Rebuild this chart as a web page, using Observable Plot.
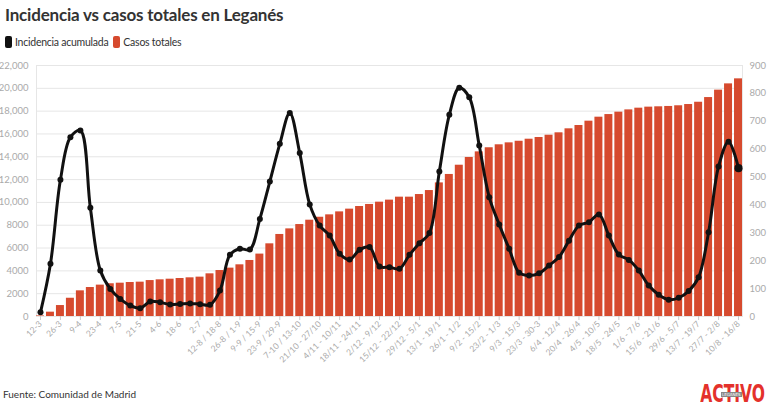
<!DOCTYPE html>
<html>
<head>
<meta charset="utf-8">
<script src="https://cdn.jsdelivr.net/npm/d3@7"></script>
<script src="https://cdn.jsdelivr.net/npm/@observablehq/plot@0.6"></script>
<style>
  body { margin: 0; width: 768px; height: 415px; overflow: hidden; background: #fff; position: relative; font-family: Lato, "Open Sans", sans-serif; }
  #title { position: absolute; left: 5px; top: 4px; font-size: 17px; letter-spacing: -0.2px; font-weight: 700; color: #333; white-space: nowrap; }
  #legend { position: absolute; left: 5px; top: 36px; font-size: 10.5px; letter-spacing: -0.25px; color: #333; white-space: nowrap; }
  #legend span.item { margin-right: 5px; }
  #legend .sw { display: inline-block; width: 7px; height: 12px; border-radius: 2px; margin-right: 3px; vertical-align: -2px; }
  #chart { position: absolute; left: 0; top: 55px; }
  #source { position: absolute; left: 3px; top: 388px; font-size: 10px; color: #333; white-space: nowrap; }
  #logo { position: absolute; right: 3px; top: 380px; font-family: "DejaVu Sans Condensed", "DejaVu Sans", sans-serif; font-weight: 700; font-size: 24px; color: #e4312b; transform: scaleX(0.72); transform-origin: right center; white-space: nowrap; }
  #logo2 { position: absolute; left: 721px; top: 392px; font-family: "DejaVu Sans", sans-serif; font-size: 4px; line-height: 5px; background: #888; color: #fff; padding: 0 1px; white-space: nowrap; }
</style>
</head>
<body>
<div id="title">Incidencia vs casos totales en Leganés</div>
<div id="legend"><span class="item"><span class="sw" style="background:#111"></span>Incidencia acumulada</span><span class="item"><span class="sw" style="background:#d64a2e"></span>Casos totales</span></div>
<div id="chart"></div>
<div id="source">Fuente: Comunidad de Madrid</div>
<div id="logo">ACTIVO</div>
<div id="logo2">LEGANÉS</div>
<script>
const categorias = [
  "12-3","19-3","26-3","2-4","9-4","16-4","23-4","30-4","7-5","14-5","21-5","28-5","4-6","11-6","18-6","25-6","2-7",
  "5-8 / 11-8","12-8 / 18-8","19-8 / 25-8","26-8 / 1-9","2-9 / 8-9","9-9 / 15-9","16-9 / 22-9","23-9 / 29-9","30-9 / 6-10",
  "7-10 / 13-10","14/10 - 20/10","21/10 - 27/10","28/10 - 3/11","4/11 - 10/11","11/11 - 17/11","18/11 - 24/11","25/11 - 1/12",
  "2/12 - 9/12","9/12 - 15/12","15/12 - 22/12","22/12 - 28/12","29/12 - 5/1","6/1 - 12/1","13/1 - 19/1","20/1 - 25/1",
  "26/1 - 1/2","2/2 - 8/2","9/2 - 15/2","16/2 - 22/2","23/2 - 1/3","2/3 - 8/3","9/3 - 15/3","16/3 - 22/3","23/3 - 30-3",
  "30/3 - 5/4","6/4 - 12/4","13/4 - 19/4","20/4 - 26/4","27/4 - 3/5","4/5 - 10/5","11/5 - 17/5","18/5 - 24/5","25/5 - 31/5",
  "1/6 - 7/6","8/6 - 14/6","15/6 - 21/6","22/6 - 28/6","29/6 - 5/7","6/7 - 12/7","13/7 - 19/7","20/7 - 26/7","27/7 - 2/8",
  "3/8 - 9/8","10/8 - 16/8"
];
const casosTotales = [
  50, 380, 960, 1600, 2250, 2540, 2750, 2870, 2920, 2980, 3010, 3150, 3215, 3270, 3330, 3390, 3450,
  3740, 4030, 4240, 4530, 4910, 5470, 6370, 7190, 7680, 8060, 8440, 8700, 8910, 9170, 9410, 9640, 9820,
  10020, 10200, 10460, 10460, 10690, 11040, 11710, 12450, 13260, 13940, 14430, 14790, 15050, 15220, 15360,
  15540, 15690, 15890, 16100, 16450, 16740, 17120, 17470, 17700, 17910, 18110, 18260, 18350, 18380, 18410,
  18470, 18580, 18780, 19190, 19840, 20390, 20830
];
const incidencia = [
  15, 189, 490, 643, 667, 390, 165, 99, 63, 39, 30, 54, 51, 43, 45, 47, 44,
  42, 93, 221, 243, 240, 350, 484, 619, 730, 586, 402, 326, 290, 225, 204, 239, 249,
  179, 177, 171, 221, 263, 299, 520, 723, 820, 786, 613, 428, 330, 243, 157,
  147, 155, 183, 213, 272, 326, 338, 366, 290, 222, 203, 165, 111, 78, 60,
  67, 91, 141, 302, 538, 627, 532
];
const ticksIzq = [0, 2000, 4000, 6000, 8000, 10000, 12000, 14000, 16000, 18000, 20000, 22000];
const ticksDer = [0, 100, 200, 300, 400, 500, 600, 700, 800, 900];

const k = 22000 / 900;
const data = categorias.map((c, i) => ({c, casos: casosTotales[i], inc: incidencia[i] * k, last: i === categorias.length - 1}));
const fmtIzq = d => d >= 10000 ? d3.format(",")(d) : String(d);

const chart = Plot.plot({
  width: 768,
  height: 311,
  marginLeft: 36,
  marginRight: 26,
  marginTop: 10,
  marginBottom: 50,
  style: {fontFamily: "Lato, 'Open Sans', sans-serif", fontSize: "9.5px", color: "#999", background: "transparent"},
  x: {domain: categorias, type: "band", paddingInner: 0.2, paddingOuter: 0, axis: null},
  y: {domain: [0, 22000], axis: null},
  marks: [
    Plot.gridY(ticksIzq, {stroke: "#e6e6e6", strokeOpacity: 1, strokeWidth: 1}),
    Plot.frame({stroke: "#e6e6e6", strokeOpacity: 1}),
    Plot.axisY(ticksIzq, {anchor: "left", tickSize: 0, tickPadding: 8, tickFormat: fmtIzq, fill: "#aaa", label: null}),
    Plot.axisY(ticksDer.map(v => v * k), {anchor: "right", tickSize: 0, tickPadding: 7, tickFormat: d => Math.round(d / k), fill: "#aaa", label: null}),
    Plot.barY(data, {x: "c", y: "casos", fill: "#d64a2e"}),
    Plot.line(data, {x: "c", y: "inc", curve: "catmull-rom", stroke: "#111", strokeWidth: 3}),
    Plot.dot(data, {x: "c", y: "inc", r: d => d.last ? 4 : 2.2, fill: "#111", stroke: "none"}),
    Plot.axisX(categorias.filter((d, i) => i % 2 === 0), {tickRotate: -45, tickSize: 4, tickPadding: 2, stroke: "#ccc", fill: "#aaa", fontSize: "8.5px", label: null})
  ]
});
document.getElementById("chart").appendChild(chart);
</script>
</body>
</html>
